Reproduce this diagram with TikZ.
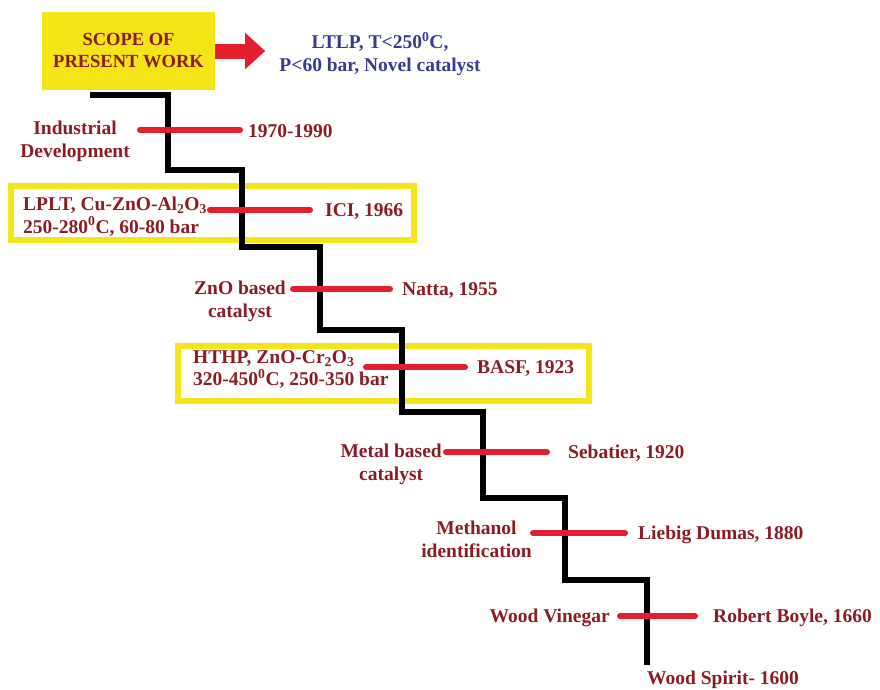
\documentclass[tikz,border=0pt]{standalone}
\usepackage{fontspec}
\setmainfont{Liberation Serif}
\usetikzlibrary{arrows.meta, positioning}
\definecolor{scopeyellow}{RGB}{244,228,24}
\definecolor{labelred}{RGB}{140,28,36}
\definecolor{barred}{RGB}{228,30,44}
\definecolor{aimblue}{RGB}{58,58,150}

\tikzset{
    lbl/.style={font=\fontsize{19.5}{22.5}\selectfont\bfseries, text=labelred, inner sep=0pt, align=center},
    aim/.style={lbl, text=aimblue},
    bar/.style={line width=6pt, barred, line cap=round},
    stair/.style={line width=6.5pt, black},
    frame/.style={line width=5.5pt, scopeyellow}
}

\begin{document}
\begin{tikzpicture}[x=1pt, y=-1pt]
    \useasboundingbox (0,0) rectangle (880,689);

    % Scope box and arrow
    \node[lbl, fill=scopeyellow, minimum width=173pt, minimum height=78pt, font=\fontsize{18.5}{22}\selectfont\bfseries] (scope) at (128.5,51) {SCOPE OF\\PRESENT WORK};
    \draw[barred, line width=15pt, -{Triangle[length=20pt, width=35pt]}] (scope.east) -- ++(50,0);
    \node[aim] (aim) at (380,54) {LTLP, T<250\textsuperscript{0}C,\\P<60 bar, Novel catalyst};

    % Frames
    \draw[frame] (11,186) rectangle (414,240);
    \draw[frame] (178,346) rectangle (589,401);

    % Staircase
    \draw[stair] (90,95) -| (168,170) -| (242,247) -| (320,330) -| (402,412) -| (483,498) -| (565,580) -| (647,665) coordinate (origin);

    % Industrial development
    \coordinate (ind1) at (140,130);
    \coordinate (ind2) at (240,130);
    \draw[bar] (ind1) -- (ind2);
    \node[lbl, anchor=north east] (indus) at ([shift={(-10,-9)}]ind1) {Industrial\\Development};
    \node[lbl, anchor=base west] (indus-date) at ([shift={(8,7)}]ind2) {1970-1990};

    % ICI
    \coordinate (ici1) at (210,210);
    \coordinate (ici2) at (310,210);
    \draw[bar] (ici1) -- (ici2);
    \node[lbl, align=left, anchor=north west] (lplt) at (23,197) {LPLT, Cu-ZnO-Al\textsubscript{2}O\textsubscript{3}\\250-280\textsuperscript{0}C, 60-80 bar};
    \node[lbl, anchor=base west] (ici) at ([shift={(15,6.5)}]ici2) {ICI, 1966};

    % Natta
    \coordinate (nat1) at (293,289);
    \coordinate (nat2) at (390,289);
    \draw[bar] (nat1) -- (nat2);
    \node[lbl, anchor=north east] (zno) at ([shift={(-7,-8)}]nat1) {ZnO based\\catalyst};
    \node[lbl, anchor=base west] (natta) at ([shift={(12,6.5)}]nat2) {Natta, 1955};

    % BASF
    \coordinate (basf1) at (366,367);
    \coordinate (basf2) at (465,367);
    \draw[bar] (basf1) -- (basf2);
    \node[lbl, align=left, anchor=north west] (hthp) at (193,350) {HTHP, ZnO-Cr\textsubscript{2}O\textsubscript{3}\\320-450\textsuperscript{0}C, 250-350 bar};
    \node[lbl, anchor=base west] (basf) at ([shift={(12,6.5)}]basf2) {BASF, 1923};

    % Sebatier
    \coordinate (seb1) at (446,452);
    \coordinate (seb2) at (547,452);
    \draw[bar] (seb1) -- (seb2);
    \node[lbl, anchor=north east] (metal) at ([shift={(-4,-8)}]seb1) {Metal based\\catalyst};
    \node[lbl, anchor=base west] (sebatier) at ([shift={(21,6.5)}]seb2) {Sebatier, 1920};

    % Liebig Dumas
    \coordinate (lie1) at (533,533);
    \coordinate (lie2) at (625,533);
    \draw[bar] (lie1) -- (lie2);
    \node[lbl, anchor=north east] (methanol) at ([shift={(-1,-12)}]lie1) {Methanol\\identification};
    \node[lbl, anchor=base west] (liebig) at ([shift={(13,6.5)}]lie2) {Liebig Dumas, 1880};

    % Robert Boyle
    \coordinate (boy1) at (620,616);
    \coordinate (boy2) at (695,616);
    \draw[bar] (boy1) -- (boy2);
    \node[lbl, anchor=base east] (vinegar) at ([shift={(-10,6.5)}]boy1) {Wood Vinegar};
    \node[lbl, anchor=base west] (boyle) at ([shift={(18,6.5)}]boy2) {Robert Boyle, 1660};

    % Wood spirit
    \node[lbl, anchor=north west] (spirit) at ([shift={(0,6)}]origin) {Wood Spirit- 1600};
\end{tikzpicture}
\end{document}
